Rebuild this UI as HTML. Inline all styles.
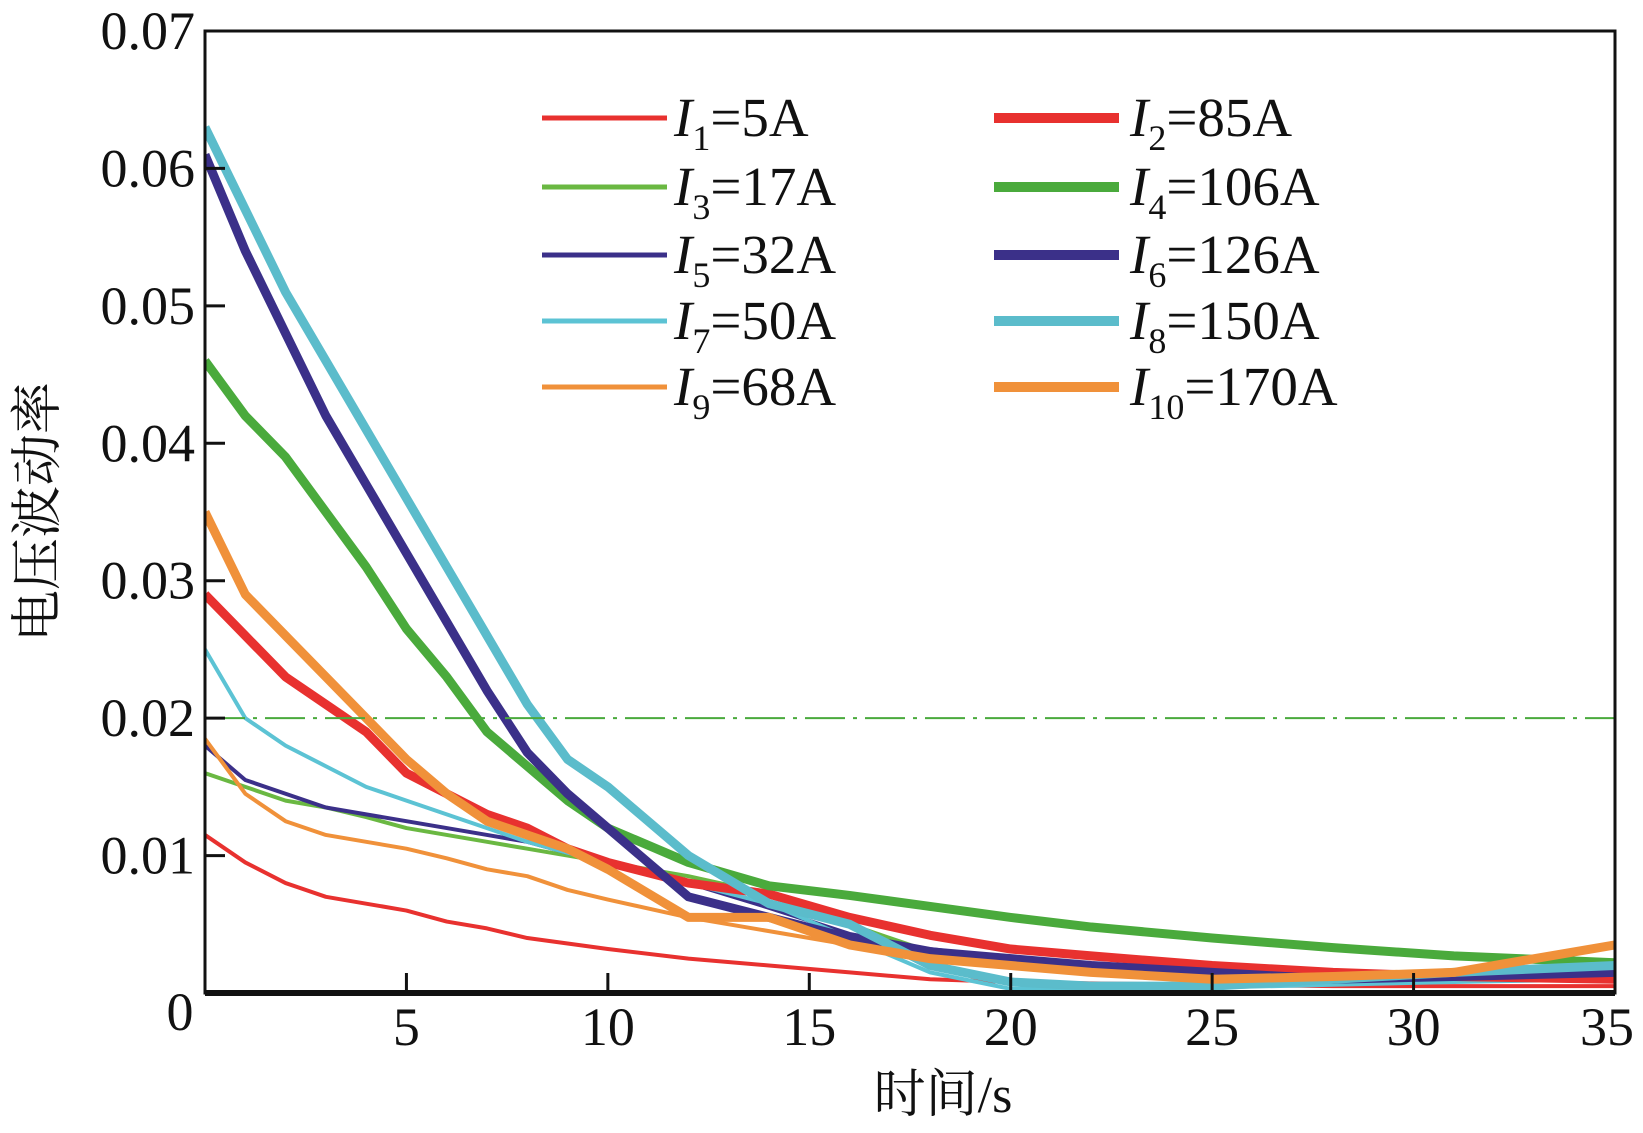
<!DOCTYPE html>
<html><head><meta charset="utf-8"><style>
html,body{margin:0;padding:0;background:#fff}
svg{display:block}
text{font-family:"Liberation Serif","Noto Serif CJK SC",serif;fill:#111}
</style></head><body>
<svg id="chart" width="1643" height="1133" viewBox="0 0 1643 1133" xmlns="http://www.w3.org/2000/svg">
<defs><clipPath id="plotclip"><rect x="205" y="31" width="1410" height="962"/></clipPath></defs>
<g id="series" clip-path="url(#plotclip)"></g>
<g id="axes"></g>
<g id="legend"></g>
</svg>
<script>
const times = [0,1,2,3,4,5,6,7,8,9,10,12,14,16,18,20,22,25,28,31,35];
const i1 = [0.0115,0.0095,0.008,0.007,0.0065,0.006,0.0052,0.0047,0.004,0.0036,0.0032,0.0025,0.002,0.0015,0.001,0.0008,0.0007,0.0006,0.0005,0.0005,0.0005];
const i2 = [0.029,0.026,0.023,0.021,0.019,0.016,0.0145,0.013,0.012,0.0105,0.0095,0.008,0.0072,0.0055,0.0042,0.0032,0.0027,0.002,0.0015,0.0012,0.001];
const i3 = [0.016,0.015,0.014,0.0135,0.0128,0.012,0.0115,0.011,0.0105,0.01,0.0095,0.0085,0.0072,0.005,0.003,0.002,0.0015,0.001,0.0008,0.001,0.0015];
const i4 = [0.046,0.042,0.039,0.035,0.031,0.0265,0.023,0.019,0.0165,0.014,0.012,0.0095,0.0078,0.0071,0.0063,0.0055,0.0048,0.004,0.0033,0.0027,0.0022];
const i5 = [0.018,0.0155,0.0145,0.0135,0.013,0.0125,0.012,0.0115,0.011,0.0102,0.0095,0.008,0.0062,0.0043,0.0032,0.0025,0.002,0.0015,0.0015,0.0015,0.0015];
const i6 = [0.061,0.054,0.048,0.042,0.037,0.032,0.027,0.022,0.0175,0.0145,0.012,0.007,0.0055,0.004,0.003,0.0025,0.002,0.0015,0.001,0.0012,0.0015];
const i7 = [0.025,0.02,0.018,0.0165,0.015,0.014,0.013,0.012,0.011,0.0102,0.0095,0.008,0.0065,0.004,0.0015,0.0003,0.0003,0.0004,0.0006,0.0008,0.001];
const i8 = [0.063,0.057,0.051,0.046,0.041,0.036,0.031,0.026,0.021,0.017,0.015,0.01,0.0065,0.005,0.002,0.0008,0.0005,0.0005,0.001,0.0015,0.002];
const i9 = [0.0185,0.0145,0.0125,0.0115,0.011,0.0105,0.0098,0.009,0.0085,0.0075,0.0068,0.0055,0.0045,0.0035,0.003,0.0025,0.002,0.0015,0.0012,0.0012,0.0015];
const i10 = [0.035,0.029,0.026,0.023,0.02,0.017,0.0145,0.0125,0.0115,0.0105,0.009,0.0055,0.0055,0.0035,0.0025,0.002,0.0015,0.001,0.0012,0.0015,0.0035];
const xTicks = [5,10,15,20,25,30,35];
const yTicks = [0.01,0.02,0.03,0.04,0.05,0.06,0.07];
const yTickLabels = ["0.01","0.02","0.03","0.04","0.05","0.06","0.07"];
const legendLabels = [["1","=5A"],["2","=85A"],["3","=17A"],["4","=106A"],["5","=32A"],["6","=126A"],["7","=50A"],["8","=150A"],["9","=68A"],["10","=170A"]];
const thresholdValue = 0.02;

const NS="http://www.w3.org/2000/svg";
const L=205,R=1615,T=31,B=993;
const xs=t=>L+(t/35)*(R-L);
const ys=v=>B-(v/0.07)*(B-T);
function mk(tag,attrs,parent){const e=document.createElementNS(NS,tag);for(const k in attrs)e.setAttribute(k,attrs[k]);parent.appendChild(e);return e;}
const sg=document.getElementById('series'),ag=document.getElementById('axes'),lg=document.getElementById('legend');

const series=[
 {d:i1,c:"#e8312f",w:4,n:"series-i1"},{d:i3,c:"#6ab842",w:4,n:"series-i3"},{d:i5,c:"#3b3089",w:4,n:"series-i5"},
 {d:i7,c:"#5cc3d4",w:4,n:"series-i7"},{d:i9,c:"#f0913a",w:4,n:"series-i9"},
 {d:i2,c:"#e8312f",w:9,n:"series-i2"},{d:i4,c:"#4aaa3c",w:9,n:"series-i4"},{d:i6,c:"#3b3089",w:9,n:"series-i6"},
 {d:i8,c:"#5bbccb",w:9,n:"series-i8"},{d:i10,c:"#f0913a",w:9,n:"series-i10"}];
series.forEach(s=>{
 const p=mk('polyline',{points:times.map((t,i)=>xs(t)+','+ys(s.d[i])).join(' '),fill:'none',stroke:s.c,'stroke-width':s.w,'stroke-linejoin':'round'},sg);
 
 
});
const th=mk('line',{x1:L,x2:R,y1:ys(thresholdValue),y2:ys(thresholdValue),stroke:'#4aaa3c','stroke-width':2,'stroke-dasharray':'40 8 4 8'},sg);



const fr=mk('rect',{x:L,y:T,width:R-L,height:B-T,fill:'none',stroke:'#111','stroke-width':3},ag);


const bx=mk('line',{x1:L,x2:R,y1:B,y2:B,stroke:'#111','stroke-width':6},ag);


xTicks.forEach(t=>{
 const tk=mk('line',{x1:xs(t),x2:xs(t),y1:B,y2:B-20,stroke:'#111','stroke-width':3},ag);
 
 
 const tx=mk('text',{x:xs(t)-(t===35?8:0),y:1045,'text-anchor':'middle','font-size':54},ag);
 tx.textContent=t;
 
 
});
yTicks.forEach((v,i)=>{
 const tk=mk('line',{x1:L,x2:L+20,y1:ys(v),y2:ys(v),stroke:'#111','stroke-width':3},ag);
 
 
 const tx=mk('text',{x:195,y:ys(v)+18,'text-anchor':'end','font-size':54},ag);
 tx.textContent=yTickLabels[i];
 
 
});
const z=mk('text',{x:180,y:1030,'text-anchor':'middle','font-size':54},ag);
z.textContent='0';


const xt=mk('text',{x:943,y:1112,'text-anchor':'middle','font-size':52},ag);
xt.textContent='时间/s';


const yt=mk('text',{x:0,y:0,'text-anchor':'middle','font-size':52,transform:'translate(55,512) rotate(-90)'},ag);
yt.textContent='电压波动率';



const rowsY=[118,187,255,321,387];
const order=[0,5,1,6,2,7,3,8,4,9]; // legend index -> series index
legendLabels.forEach((lab,i)=>{
 const col=i%2,row=Math.floor(i/2);
 const s=series[order[i]];
 const x0=col?994:542,tx0=col?1130:674,y=rowsY[row];
 const g=mk('g',{},lg);
 
 
 mk('line',{x1:x0,x2:x0+125,y1:y,y2:y,stroke:s.c,'stroke-width':s.w+1},g);
 const t=mk('text',{x:tx0,y:y+18,'font-size':55},g);
 const a=document.createElementNS(NS,'tspan');a.setAttribute('font-style','italic');a.textContent='I';t.appendChild(a);
 const b=document.createElementNS(NS,'tspan');b.setAttribute('font-size','36');b.setAttribute('dy','14');b.textContent=lab[0];t.appendChild(b);
 const c=document.createElementNS(NS,'tspan');c.setAttribute('dy','-14');c.textContent=lab[1];t.appendChild(c);
});
</script>
</body></html>
